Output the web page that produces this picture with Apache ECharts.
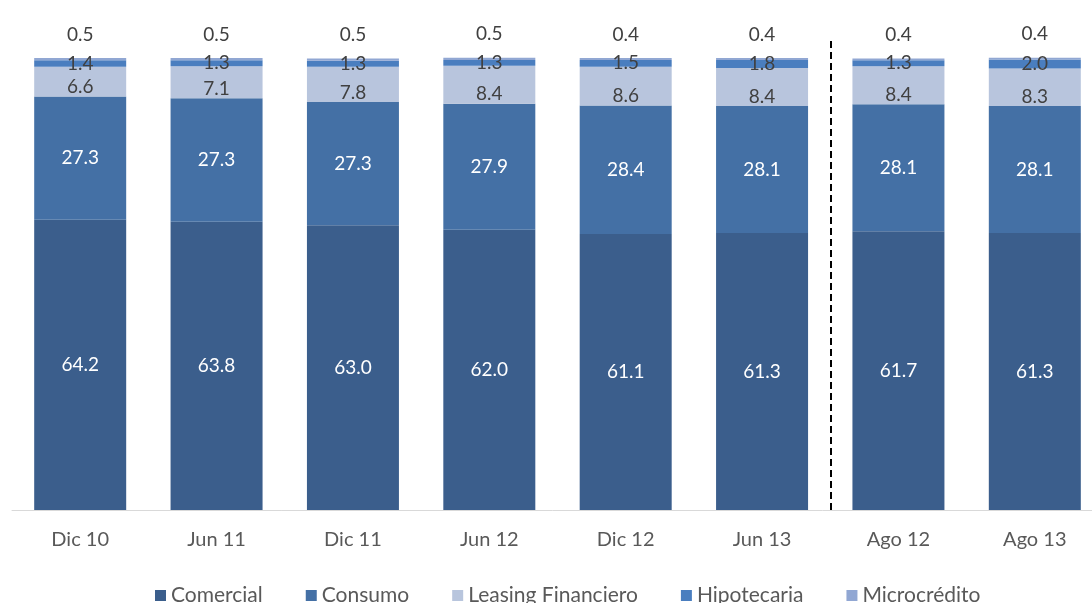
<!DOCTYPE html>
<html>
<head>
<meta charset="utf-8">
<script src="https://cdn.jsdelivr.net/npm/echarts@6/dist/echarts.min.js"></script>
<style>
  html, body { margin: 0; padding: 0; background: #fff; }
  #chart { width: 1092px; height: 603px; }
</style>
</head>
<body>
<div id="chart"></div>
<script>
const categories = ["Dic 10", "Jun 11", "Dic 11", "Jun 12", "Dic 12", "Jun 13", "Ago 12", "Ago 13"];
const comercial = [64.2, 63.8, 63.0, 62.0, 61.1, 61.3, 61.7, 61.3];
const consumo = [27.3, 27.3, 27.3, 27.9, 28.4, 28.1, 28.1, 28.1];
const leasing = [6.6, 7.1, 7.8, 8.4, 8.6, 8.4, 8.4, 8.3];
const hipotecaria = [1.4, 1.3, 1.3, 1.3, 1.5, 1.8, 1.3, 2.0];
const microcredito = [0.5, 0.5, 0.5, 0.5, 0.4, 0.4, 0.4, 0.4];
// dashed separator sits at the boundary before "Ago 12" (category index 6)
const separatorAt = 6;

const font = "Lato, 'Open Sans', sans-serif";
const fmt = p => p.value.toFixed(1);

const chart = echarts.init(document.getElementById("chart"));

const bar = (name, data, color, label) => ({
  name: name,
  type: "bar",
  stack: "total",
  barWidth: 92,
  data: data,
  itemStyle: { color: color },
  label: Object.assign({
    show: true,
    formatter: fmt,
    fontFamily: font,
    fontSize: 19
  }, label)
});

chart.setOption({
  animation: false,
  grid: { left: 12, width: 1091, top: 40, bottom: 93, outerBoundsMode: "none" },
  legend: {
    top: 580,
    left: 150,
    itemWidth: 11,
    itemHeight: 11,
    itemGap: 43,
    icon: "rect",
    textStyle: { color: "#595959", fontSize: 21, fontFamily: font },
    data: ["Comercial", "Consumo", "Leasing Financiero", "Hipotecaria", "Microcrédito"]
  },
  xAxis: [
    {
      type: "category",
      data: categories,
      axisTick: { show: false },
      axisLine: { lineStyle: { color: "#d9d9d9", width: 1 } },
      axisLabel: { color: "#595959", fontSize: 20, fontFamily: font, margin: 20 },
      splitLine: { show: false }
    },
    {
      type: "value",
      min: 0,
      max: categories.length,
      show: false
    }
  ],
  yAxis: {
    type: "value",
    min: 0,
    max: 104,
    show: false
  },
  series: [
    bar("Comercial", comercial, "#3b5e8c", { position: "inside", color: "#fff" }),
    bar("Consumo", consumo, "#4470a5", { position: "inside", color: "#fff" }),
    bar("Leasing Financiero", leasing, "#b8c5dd", { position: "insideBottom", distance: 0, color: "#404040" }),
    bar("Hipotecaria", hipotecaria, "#4a7ebf", { position: "inside", color: "#404040" }),
    bar("Microcrédito", microcredito, "#91a7d3", { position: "top", distance: 14, color: "#404040" }),
    {
      type: "line",
      xAxisIndex: 1,
      data: [],
      silent: true,
      markLine: {
        silent: true,
        symbol: ["none", "none"],
        label: { show: false },
        lineStyle: { color: "#000", width: 2, type: [7, 4] },
        data: [{ xAxis: separatorAt }]
      }
    }
  ]
});
</script>
</body>
</html>
